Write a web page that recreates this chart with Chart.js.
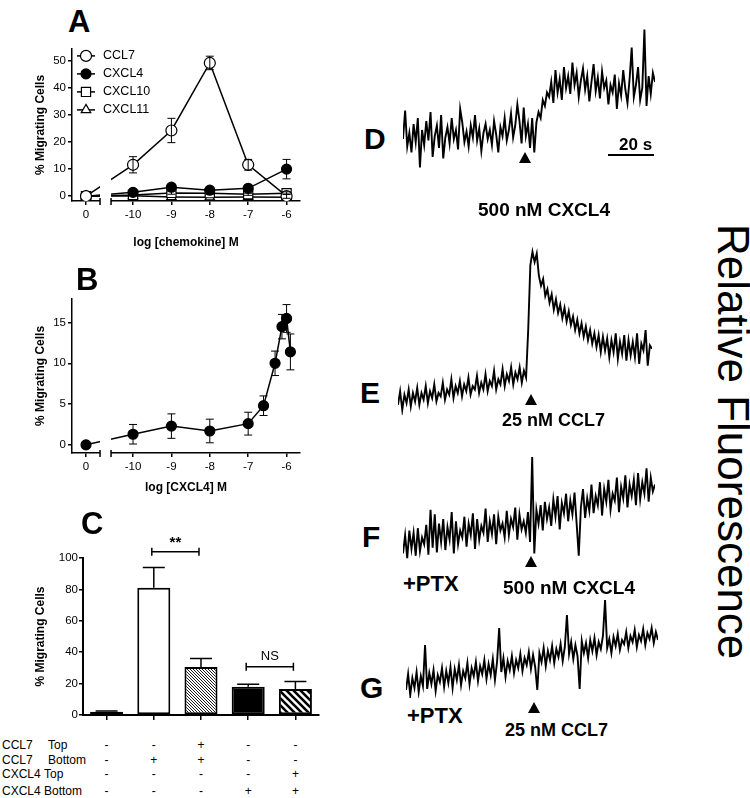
<!DOCTYPE html>
<html>
<head>
<meta charset="utf-8">
<script src="https://cdn.jsdelivr.net/npm/chart.js@4.4.1/dist/chart.umd.min.js"></script>
<style>
body { margin: 0; background: #fff; }
#page { position: relative; width: 750px; height: 798px; overflow: hidden; font-family: 'Liberation Sans', Arial, sans-serif; color: #000; }
canvas { position: absolute; }
.t { position: absolute; white-space: nowrap; line-height: 1; }
.letter { font-weight: bold; font-size: 30px; }
.lab { font-weight: bold; font-size: 19px; }
.ptx { font-weight: bold; font-size: 22px; }
.arrow { position: absolute; width: 0; height: 0; border-left: 6px solid transparent; border-right: 6px solid transparent; border-bottom: 11px solid #000; }
.cell { position: absolute; font-size: 12px; line-height: 1; white-space: nowrap; }
</style>
</head>
<body>
<div id="page">
  <canvas id="chartA" width="310" height="215" style="left:0;top:40px"></canvas>
  <canvas id="chartB" width="310" height="210" style="left:0;top:290px"></canvas>
  <canvas id="chartC" width="330" height="198" style="left:0;top:530px"></canvas>
  <canvas id="traceD" width="252" height="150" style="left:403px;top:25px"></canvas>
  <canvas id="traceE" width="254" height="170" style="left:398px;top:245px"></canvas>
  <canvas id="traceF" width="252" height="115" style="left:403px;top:450px"></canvas>
  <canvas id="traceG" width="252" height="100" style="left:406px;top:598px"></canvas>

  <div class="t letter" style="left:68px;top:6px;font-size:31px">A</div>
  <div class="t letter" style="left:76px;top:264px;font-size:31px">B</div>
  <div class="t letter" style="left:81px;top:508px;font-size:31px">C</div>
  <div class="t letter" style="left:364px;top:124px">D</div>
  <div class="t letter" style="left:360px;top:378px">E</div>
  <div class="t letter" style="left:362px;top:522px">F</div>
  <div class="t letter" style="left:360px;top:673px">G</div>

  <div class="t" style="left:619px;top:136px;font-weight:bold;font-size:17px">20 s</div>
  <div style="position:absolute;left:608px;top:154px;width:46px;height:2px;background:#000"></div>

  <div class="arrow" style="left:519px;top:152px"></div>
  <div class="arrow" style="left:525px;top:394px"></div>
  <div class="arrow" style="left:525px;top:556px"></div>
  <div class="arrow" style="left:528px;top:702px"></div>

  <div class="t lab" style="left:478px;top:200px">500 nM CXCL4</div>
  <div class="t lab" style="left:502px;top:411px;font-size:18px">25 nM CCL7</div>
  <div class="t ptx" style="left:403px;top:573px">+PTX</div>
  <div class="t lab" style="left:503px;top:578px">500 nM CXCL4</div>
  <div class="t ptx" style="left:407px;top:705px">+PTX</div>
  <div class="t lab" style="left:505px;top:721px;font-size:18px">25 nM CCL7</div>

  <div class="t" style="left:711px;top:224px;font-size:44px;writing-mode:vertical-rl">Relative Fluorescence</div>
</div>

<script>
// Panel A: chemotaxis dose response (log M, 0 = no chemokine)
const logConcA = [0, -10, -9, -8, -7, -6];
const ccl7 = [0, 11.6, 24.3, 49.3, 11.6, 0];
const ccl7Err = [0, 3, 4.5, 2.5, 2, 0.8];
const cxcl4 = [0, 1.4, 3.3, 2.2, 2.9, 10];
const cxcl4Err = [0, 0.5, 0.6, 0.5, 0.5, 3.6];
const cxcl10 = [0, 0.4, 1.2, 1.1, 0.7, 1.1];
const cxcl10Err = [0, 0.3, 0.5, 0.4, 0.4, 0.5];
const cxcl11 = [0, 0.1, -0.3, -0.4, -0.3, -0.4];
const yTicksA = [0, 10, 20, 30, 40, 50];

// Panel B: CXCL4 dose response
const logConcB = [0, -10, -9, -8, -7, -6.6, -6.3, -6.12, -6, -5.9];
const cxcl4B = [0, 1.3, 2.3, 1.7, 2.6, 4.8, 10, 14.5, 15.5, 11.4];
const cxcl4BErr = [0, 1.2, 1.5, 1.45, 1.4, 1.2, 1.5, 1.5, 1.7, 2.2];
const yTicksB = [0, 5, 10, 15];

// shared broken x axis
const xTickLabels = ['0', '-10', '-9', '-8', '-7', '-6'];
const ZERO_AT = -11.225;
const BREAK = [-10.86, -10.573];

// Panel C: checkerboard migration
const conditions = ['Control', 'CCL7 bottom', 'CCL7 top+bottom', 'CXCL4 bottom', 'CXCL4 top+bottom'];
const migration = [2, 81, 30.5, 18, 16.5];
const migrationErr = [0.5, 13, 5.5, 1.6, 4.8];
const yTicksC = [0, 20, 40, 60, 80, 100];
const rowNames = [['CCL7', 'Top'], ['CCL7', 'Bottom'], ['CXCL4', 'Top'], ['CXCL4', 'Bottom']];
const rowSigns = [
  ['-', '-', '+', '-', '-'],
  ['-', '+', '+', '-', '-'],
  ['-', '-', '-', '-', '+'],
  ['-', '-', '-', '+', '+']
];
const sigPairs = [[1, 2, '**', 104], [3, 4, 'NS', 30.8]];

// Panels D-G: calcium traces (relative fluorescence)
const traceD = [
  24, 43, 19, 28, 15, 34, 22, 38, 5, 30,
  20, 36, 23, 42, 12, 26, 33, 18, 40, 11,
  25, 32, 21, 38, 24, 30, 17, 44, 35, 22,
  29, 19, 33, 25, 40, 23, 31, 16, 28, 34,
  24, 30, 20, 36, 27, 15, 32, 26, 38, 23,
  30, 41, 25, 33, 47, 36, 21, 45, 26, 34,
  18, 38, 15, 35, 42, 38, 50, 46, 55, 52,
  62, 48, 70, 55, 64, 50, 72, 58, 66, 54,
  75, 60, 68, 52, 63, 71, 57, 66, 49, 62,
  74, 56, 65, 51, 69, 58, 63, 47, 60, 55,
  67, 44, 61, 53, 70, 57, 48, 64, 85, 52,
  60, 72, 50, 58, 97, 46, 66, 54, 68, 62
];
const traceE = [
  6, 14, 3, 12, 7, 15, 5, 13, 8, 16,
  6, 13, 9, 17, 7, 14, 10, 18, 8, 13,
  11, 19, 9, 15, 12, 21, 10, 17, 13, 20,
  11, 18, 14, 22, 12, 17, 15, 23, 13, 19,
  15, 24, 14, 20, 17, 26, 15, 21, 18, 27,
  17, 24, 20, 28, 18, 25, 21, 28, 19, 26,
  22, 50, 88, 96, 90, 95, 82, 76, 80, 70,
  74, 66, 71, 62, 68, 60, 65, 57, 63, 55,
  61, 53, 58, 50, 56, 48, 54, 46, 52, 44,
  50, 42, 48, 40, 47, 37, 46, 38, 45, 34,
  44, 37, 48, 33, 43, 36, 47, 32, 44, 35,
  43, 34, 48, 30, 42, 38, 50, 29, 41, 39
];
const traceF = [
  10, 26, 6, 30, 14, 28, 8, 32, 12, 24,
  18, 35, 9, 48, 15, 44, 11, 36, 20, 40,
  13, 33, 22, 46, 10, 38, 18, 30, 24, 42,
  16, 36, 26, 45, 14, 40, 22, 34, 28, 49,
  20, 38, 27, 44, 18, 42, 30, 36, 24, 47,
  26, 40, 33, 50, 22, 44, 31, 38, 28, 46,
  20, 94, 10, 48, 36, 52, 30, 55, 40, 50,
  34, 57, 42, 60, 31, 54, 45, 62, 38, 56,
  44, 63, 36, 8, 50, 66, 41, 58, 47, 70,
  45, 60, 52, 72, 43, 66, 55, 74, 48, 62,
  56, 76, 46, 68, 58, 78, 50, 70, 60, 74,
  52, 80, 57, 72, 62, 84, 55, 76, 64, 70
];
const traceG = [
  8, 24, 3, 20, 10, 26, 6, 22, 12, 53,
  9, 25, 14, 28, 7, 23, 16, 30, 11, 27,
  15, 31, 10, 29, 18, 33, 13, 27, 20, 35,
  14, 30, 22, 36, 17, 32, 24, 38, 19, 34,
  23, 39, 18, 36, 70, 26, 40, 21, 37, 28,
  42, 25, 38, 30, 44, 27, 40, 33, 46, 29,
  43, 31, 8, 45, 36, 50, 32, 47, 38, 52,
  35, 49, 41, 54, 37, 51, 83, 44, 56, 39,
  53, 42, 9, 57, 45, 55, 40, 58, 47, 60,
  43, 56, 49, 62, 98, 50, 59, 45, 61, 52,
  64, 48, 58, 54, 66, 50, 62, 56, 68, 51,
  63, 57, 69, 53, 65, 59, 70, 55, 66, 58
];

Chart.defaults.font.family = "'Liberation Sans', Arial, sans-serif";
Chart.defaults.color = '#000';

// vertical error bars, symmetric for line charts, upward for bars
const errorBars = {
  id: 'errorBars',
  afterDatasetsDraw(chart, args, opts) {
    const ctx = chart.ctx;
    const yScale = chart.scales.y;
    chart.data.datasets.forEach((ds, i) => {
      if (!ds.errors) return;
      const meta = chart.getDatasetMeta(i);
      ctx.save();
      ctx.strokeStyle = '#000';
      ctx.lineWidth = opts.lineWidth || 1;
      meta.data.forEach((el, j) => {
        const e = ds.errors[j];
        if (!e) return;
        const v = typeof ds.data[j] === 'object' ? ds.data[j].y : ds.data[j];
        const top = yScale.getPixelForValue(v + e);
        const bottom = opts.upOnly ? yScale.getPixelForValue(v) : yScale.getPixelForValue(v - e);
        const h = opts.cap / 2;
        ctx.beginPath();
        ctx.moveTo(el.x, top); ctx.lineTo(el.x, bottom);
        ctx.moveTo(el.x - h, top); ctx.lineTo(el.x + h, top);
        if (!opts.upOnly) { ctx.moveTo(el.x - h, bottom); ctx.lineTo(el.x + h, bottom); }
        ctx.stroke();
      });
      ctx.restore();
    });
  }
};

// white gap in the x axis between "0" and the log range
const axisBreak = {
  id: 'axisBreak',
  afterDraw(chart) {
    const { ctx, chartArea, scales: { x } } = chart;
    const a = x.getPixelForValue(BREAK[0]);
    const b = x.getPixelForValue(BREAK[1]);
    ctx.save();
    ctx.fillStyle = '#fff';
    ctx.fillRect(a, chartArea.top, b - a, chartArea.bottom - chartArea.top + 8);
    ctx.strokeStyle = '#000';
    ctx.lineWidth = 1.5;
    ctx.beginPath();
    [a, b].forEach(p => { ctx.moveTo(p, chartArea.bottom - 3); ctx.lineTo(p, chartArea.bottom + 4); });
    ctx.stroke();
    ctx.restore();
  }
};

const legendA = {
  id: 'legendA',
  afterDraw(chart) {
    const ctx = chart.ctx;
    const x0 = chart.chartArea.left + 5;
    chart.data.datasets.forEach((ds, i) => {
      const y = chart.chartArea.top + 7 + i * 18;
      ctx.save();
      ctx.strokeStyle = '#000';
      ctx.lineWidth = 1.5;
      ctx.beginPath(); ctx.moveTo(x0, y); ctx.lineTo(x0 + 18, y); ctx.stroke();
      ctx.fillStyle = ds.pointBackgroundColor;
      ctx.lineWidth = 1.2;
      Chart.helpers.drawPoint(ctx, { pointStyle: ds.pointStyle, radius: ds.pointRadius, rotation: 0, borderWidth: 1.2 }, x0 + 9, y);
      ctx.fillStyle = '#000';
      ctx.font = "12.5px 'Liberation Sans', Arial, sans-serif";
      ctx.textBaseline = 'middle';
      ctx.fillText(ds.label, x0 + 26, y);
      ctx.restore();
    });
  }
};

function toXY(xs, ys) {
  return xs.map((x, i) => ({ x: x === 0 ? ZERO_AT : x, y: ys[i] }));
}

function series(label, xs, ys, errs, style, fill, r) {
  return {
    label: label, data: toXY(xs, ys), errors: errs,
    borderColor: '#000', borderWidth: 1.5, tension: 0,
    pointStyle: style, pointRadius: r || 5, pointHoverRadius: r || 5,
    pointBackgroundColor: fill, pointBorderColor: '#000', pointBorderWidth: 1.2
  };
}

function axisGrid(len) {
  return { display: true, drawOnChartArea: false, drawTicks: true, tickLength: len, color: '#000', lineWidth: 1.5 };
}

function doseOptions(yMin, yMax, yTicks, xTitle, xHeight, padTop) {
  return {
    responsive: false,
    animation: false,
    layout: { padding: { left: 33, top: padTop, right: 10, bottom: 0 } },
    plugins: { legend: { display: false }, tooltip: { enabled: false }, errorBars: { cap: 8 } },
    scales: {
      x: {
        type: 'linear', min: -11.59, max: -5.65,
        border: { color: '#000', width: 1.5 },
        grid: axisGrid(4),
        afterBuildTicks: s => { s.ticks = [ZERO_AT, -10, -9, -8, -7, -6].map(v => ({ value: v })); },
        afterFit: s => { s.height = xHeight; },
        ticks: { autoSkip: false, maxRotation: 0, padding: 3, font: { size: 11.5 }, callback: (v, i) => xTickLabels[i] },
        title: { display: true, text: xTitle, font: { size: 12, weight: 'bold' }, padding: { top: 0, bottom: 5 } }
      },
      y: {
        min: yMin, max: yMax,
        border: { color: '#000', width: 1.5 },
        grid: axisGrid(4),
        afterBuildTicks: s => { s.ticks = yTicks.map(v => ({ value: v })); },
        afterFit: s => { s.width = 39; },
        ticks: { padding: 2, font: { size: 11.5 } },
        title: { display: true, text: '% Migrating Cells', font: { size: 12, weight: 'bold' }, padding: { top: 0, bottom: 0 } }
      }
    }
  };
}

new Chart(document.getElementById('chartA'), {
  type: 'line',
  data: {
    datasets: [
      series('CCL7', logConcA, ccl7, ccl7Err, 'circle', '#fff', 5.5),
      series('CXCL4', logConcA, cxcl4, cxcl4Err, 'circle', '#000', 5),
      series('CXCL10', logConcA, cxcl10, cxcl10Err, 'rect', '#fff', 6.5),
      series('CXCL11', logConcA, cxcl11, null, 'triangle', '#fff', 5.5)
    ]
  },
  options: doseOptions(-1.8, 54.5, yTicksA, 'log [chemokine] M', 54, 5),
  plugins: [errorBars, axisBreak, legendA]
});

new Chart(document.getElementById('chartB'), {
  type: 'line',
  data: { datasets: [series('CXCL4', logConcB, cxcl4B, cxcl4BErr, 'circle', '#000', 5)] },
  options: doseOptions(-1, 17.9, yTicksB, 'log [CXCL4] M', 47, 7),
  plugins: [errorBars, axisBreak]
});

// hatch fills for panel C
function hatch(size, width) {
  const c = document.createElement('canvas');
  c.width = c.height = size;
  const g = c.getContext('2d');
  g.fillStyle = '#fff';
  g.fillRect(0, 0, size, size);
  g.strokeStyle = '#000';
  g.lineWidth = width;
  g.beginPath();
  g.moveTo(-1, -1); g.lineTo(size + 1, size + 1);
  g.moveTo(-2, size - 2); g.lineTo(2, size + 2);
  g.moveTo(size - 2, -2); g.lineTo(size + 2, 2);
  g.stroke();
  return g.createPattern(c, 'repeat');
}

const sigMarks = {
  id: 'sigMarks',
  afterDraw(chart) {
    const { ctx, scales: { x, y } } = chart;
    ctx.save();
    ctx.strokeStyle = '#000';
    ctx.lineWidth = 1.5;
    ctx.fillStyle = '#000';
    ctx.textAlign = 'center';
    ctx.textBaseline = 'bottom';
    sigPairs.forEach(([from, to, text, level]) => {
      const x1 = x.getPixelForValue(from) - 2, x2 = x.getPixelForValue(to) - 2;
      const py = y.getPixelForValue(level);
      ctx.beginPath();
      ctx.moveTo(x1, py); ctx.lineTo(x2, py);
      ctx.moveTo(x1, py - 4); ctx.lineTo(x1, py + 4);
      ctx.moveTo(x2, py - 4); ctx.lineTo(x2, py + 4);
      ctx.stroke();
      ctx.font = text === '**' ? "bold 15px 'Liberation Sans', Arial, sans-serif" : "13px 'Liberation Sans', Arial, sans-serif";
      ctx.fillText(text, (x1 + x2) / 2, py - (text === '**' ? 1 : 4));
    });
    ctx.restore();
  }
};

const chartC = new Chart(document.getElementById('chartC'), {
  type: 'bar',
  data: {
    labels: conditions,
    datasets: [{
      data: migration,
      errors: migrationErr,
      backgroundColor: ['#999', '#fff', hatch(3, 0.9), '#000', hatch(7, 2.6)],
      borderColor: '#000',
      borderWidth: 2,
      borderSkipped: false,
      categoryPercentage: 1,
      barPercentage: 0.7
    }]
  },
  options: {
    responsive: false,
    animation: false,
    layout: { padding: { left: 33, top: 28, right: 11, bottom: 0 } },
    plugins: { legend: { display: false }, tooltip: { enabled: false }, errorBars: { cap: 22, upOnly: true, lineWidth: 1.5 } },
    scales: {
      x: {
        border: { color: '#000', width: 2 },
        grid: Object.assign(axisGrid(5), { offset: false }),
        ticks: { display: false },
        afterFit: s => { s.height = 13; }
      },
      y: {
        min: 0, max: 100,
        border: { color: '#000', width: 2 },
        grid: axisGrid(4),
        afterBuildTicks: s => { s.ticks = yTicksC.map(v => ({ value: v })); },
        afterFit: s => { s.width = 50; },
        ticks: { padding: 1, font: { size: 11.5 } },
        title: { display: true, text: '% Migrating Cells', font: { size: 12, weight: 'bold' }, padding: { top: 0, bottom: 0 } }
      }
    }
  },
  plugins: [errorBars, sigMarks]
});

// +/- table under panel C, columns aligned with the bars
const page = document.getElementById('page');
const rowTops = [739, 754, 768, 785];
rowNames.forEach((names, r) => {
  const a = document.createElement('div');
  a.className = 'cell'; a.style.left = '2px'; a.style.top = rowTops[r] + 'px'; a.textContent = names[0];
  page.appendChild(a);
  const b = document.createElement('div');
  b.className = 'cell'; b.style.left = (names[0] === 'CCL7' ? 48 : 44) + 'px'; b.style.top = rowTops[r] + 'px'; b.textContent = names[1];
  page.appendChild(b);
  rowSigns[r].forEach((s, c) => {
    const d = document.createElement('div');
    d.className = 'cell';
    d.style.left = (chartC.scales.x.getPixelForValue(c) - 4) + 'px';
    d.style.top = rowTops[r] + 'px';
    d.style.width = '8px';
    d.style.textAlign = 'center';
    d.textContent = s;
    page.appendChild(d);
  });
});

function trace(id, values) {
  new Chart(document.getElementById(id), {
    type: 'line',
    data: {
      labels: values.map((_, i) => i),
      datasets: [{ data: values, borderColor: '#000', borderWidth: 1.9, pointRadius: 0, tension: 0, clip: false }]
    },
    options: {
      responsive: false,
      animation: false,
      layout: { padding: 0 },
      plugins: { legend: { display: false }, tooltip: { enabled: false } },
      scales: { x: { display: false }, y: { display: false, min: 0, max: 100 } }
    }
  });
}

trace('traceD', traceD);
trace('traceE', traceE);
trace('traceF', traceF);
trace('traceG', traceG);
</script>
</body>
</html>
